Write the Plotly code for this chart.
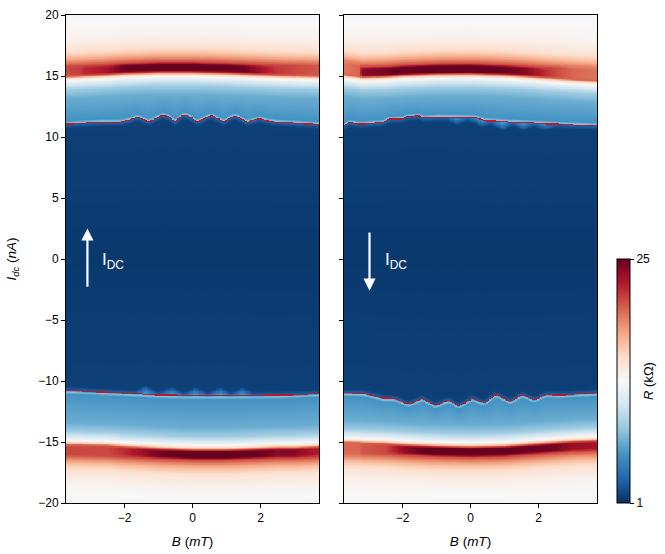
import numpy as np
import plotly.graph_objects as go

# Sampling of the map
B_MIN, B_MAX = -3.72, 3.72
I_MIN, I_MAX = -20.0, 20.0
B_STEP, I_STEP = 0.05, 0.05

# Left panel: switching edges
L_top_edge_B = [-3.7, -2.7, -2.1, -1.8, -1.63, -1.46, -1.29, -1.05, -0.85, -0.65, -0.5, -0.36, -0.24, -0.05, 0.14, 0.35, 0.55, 0.75, 0.91, 1.08, 1.26, 1.44, 1.6, 1.8, 1.97, 2.2, 2.5, 3.0, 3.72]
L_top_edge_I = [11.04, 11.2, 11.22, 11.4, 11.62, 11.45, 11.2, 11.55, 11.8, 11.55, 11.18, 11.62, 11.8, 11.6, 11.18, 11.5, 11.72, 11.5, 11.18, 11.5, 11.72, 11.45, 11.18, 11.35, 11.5, 11.3, 11.2, 11.12, 11.0]
L_bot_edge_B = [-3.72, -2.9, -1.92, -0.94, 0.04, 1.5, 2.73, 3.72]
L_bot_edge_I = [-10.77, -10.87, -11.0, -11.15, -11.2, -11.2, -11.15, -11.04]
L_bot_glow_B = [-3.72, -1.7, -1.38, -1.0, -0.6, -0.25, 0.09, 0.45, 0.82, 1.15, 1.46, 1.8, 3.72]
L_bot_glow_V = [0, 0, 1, 0, 1, 0, 1, 0, 1, 0, 1, 0, 0]

# Right panel: switching edges
R_top_edge_B = [-3.72, -3.58, -3.24, -2.55, -2.45, -1.97, -1.86, -1.47, -1.42, -0.88, 0.2, 0.29, 0.49, 1.27, 2.94, 3.72]
R_top_edge_I = [10.9, 11.17, 11.04, 11.17, 11.42, 11.48, 11.66, 11.69, 11.53, 11.61, 11.56, 11.42, 11.31, 11.2, 10.98, 10.9]
R_top_glow_B = [-3.72, -0.7, -0.4, -0.1, 0.3, 0.6, 0.95, 1.25, 1.55, 1.85, 2.2, 2.5, 3.72]
R_top_glow_V = [0, 0, 0.7, 0, 0.7, 0, 1, 0, 0.8, 0, 0.6, 0, 0]
R_bot_edge_B = [-3.72, -3.14, -2.55, -2.25, -1.81, -1.42, -1.03, -0.64, -0.34, 0.05, 0.41, 0.74, 1.18, 1.52, 1.88, 2.2, 2.65, 3.72]
R_bot_edge_I = [-10.96, -11.0, -11.42, -11.42, -11.9, -11.42, -12.0, -11.56, -12.05, -11.42, -11.8, -11.1, -11.68, -11.1, -11.55, -11.1, -11.15, -10.96]

# Resistance maxima: position (nA) and height (kOhm) versus field (mT)
band_B = [-3.72, -3.25, -3.2, -2.5, -2.0, -1.0, 0.0, 1.0, 1.6, 2.5, 3.0, 3.72]
L_top_peak_I = [15.35, 15.4, 15.42, 15.5, 15.6, 15.68, 15.68, 15.62, 15.55, 15.45, 15.42, 15.38]
L_top_peak_V = [21, 21.5, 22, 23, 25, 26, 26, 25.5, 24.5, 21.5, 21, 20.5]
L_bot_peak_I = [-15.6, -15.6, -15.62, -15.65, -15.75, -15.9, -16.0, -16.0, -15.95, -15.85, -15.85, -15.75]
L_bot_peak_V = [21, 21, 21, 21, 22, 24.5, 26, 26, 25.5, 24, 24, 22.5]
R_top_peak_I = [15.5, 15.35, 15.3, 15.35, 15.45, 15.55, 15.57, 15.48, 15.38, 15.2, 15.1, 15.0]
R_top_peak_V = [19.5, 20, 24, 24.5, 25.5, 26, 26, 25, 24, 21, 20, 19.5]
R_bot_peak_I = [-15.4, -15.42, -15.45, -15.5, -15.6, -15.72, -15.78, -15.72, -15.6, -15.42, -15.32, -15.25]
R_bot_peak_V = [20, 20, 20.5, 21, 23.5, 26, 26, 25.5, 25, 24.5, 23.5, 23]

# Profile around a maximum: offsets (nA) from the peak and resistance (kOhm)
plateau_half = 0.22
outer_offset = [0.45, 0.75, 1.15, 1.7, 2.8]
outer_value = [21.0, 19.0, 16.8, 14.8, 13.4]
inner_offset = [0.4, 0.55, 0.75, 1.05, 1.5, 2.2]
inner_value = [20.0, 15.5, 13.0, 11.0, 8.6, 7.0]
R_far = 12.7
R_gap_edge = 5.8
R_white_rim = 8.0
R_edge_line = 22.5
R_core = 1.4
R_rim = 3.2
R_glow = 6.5

B_grid = np.arange(B_MIN, B_MAX + B_STEP / 2, B_STEP)
I_grid = np.arange(I_MIN, I_MAX + I_STEP / 2, I_STEP)

def rounded(values):
    padded = np.r_[values[0], values, values[-1]]
    return np.convolve(padded, [0.25, 0.5, 0.25], mode="valid")

def build_map(te_B, te_I, be_B, be_I, tp_I, tp_V, bp_I, bp_V, tg_B=None, tg_V=None, bg_B=None, bg_V=None):
    z = np.zeros((len(I_grid), len(B_grid)))
    te = rounded(np.interp(B_grid, te_B, te_I))
    be = rounded(np.interp(B_grid, be_B, be_I))
    tp = np.interp(B_grid, band_B, tp_I)
    bp = np.interp(B_grid, band_B, bp_I)
    ta = np.interp(B_grid, band_B, tp_V)
    ba = np.interp(B_grid, band_B, bp_V)
    tg = np.interp(B_grid, tg_B, tg_V) if tg_B else np.zeros_like(B_grid)
    bg = np.interp(B_grid, bg_B, bg_V) if bg_B else np.zeros_like(B_grid)
    for j in range(len(B_grid)):
        x, y = [I_MIN], [R_far]
        for o, v in reversed(list(zip(outer_offset, outer_value))):
            x.append(bp[j] - o); y.append(min(v, ba[j]))
        x += [bp[j] - plateau_half, bp[j] + plateau_half]; y += [ba[j], ba[j]]
        for o, v in zip(inner_offset, inner_value):
            x.append(bp[j] + o); y.append(v)
        x += [be[j] - 0.28, be[j] - 0.1, be[j] + 0.04]; y += [R_gap_edge, R_white_rim, R_rim + (R_glow - R_rim) * bg[j]]
        x += [be[j] + 0.35 + 0.4 * bg[j], 0.0, te[j] - 0.35 - 0.4 * tg[j]]
        y += [R_core + 0.3, R_core, R_core + 0.3]
        x += [te[j] - 0.04, te[j] + 0.1, te[j] + 0.28]; y += [R_rim + (R_glow - R_rim) * tg[j], R_white_rim, R_gap_edge]
        for o, v in reversed(list(zip(inner_offset, inner_value))):
            x.append(tp[j] - o); y.append(v)
        x += [tp[j] - plateau_half, tp[j] + plateau_half]; y += [ta[j], ta[j]]
        for o, v in zip(outer_offset, outer_value):
            x.append(tp[j] + o); y.append(min(v, ta[j]))
        x += [I_MAX]; y += [R_far]
        z[:, j] = np.interp(I_grid, x, y)
        for edge in (te[j], be[j]):
            row = np.argmin(np.abs(I_grid - edge))
            z[row:row + 2, j] = R_edge_line
    return z

z_left = build_map(L_top_edge_B, L_top_edge_I, L_bot_edge_B, L_bot_edge_I,
                   L_top_peak_I, L_top_peak_V, L_bot_peak_I, L_bot_peak_V,
                   bg_B=L_bot_glow_B, bg_V=L_bot_glow_V)
z_right = build_map(R_top_edge_B, R_top_edge_I, R_bot_edge_B, R_bot_edge_I,
                    R_top_peak_I, R_top_peak_V, R_bot_peak_I, R_bot_peak_V,
                    tg_B=R_top_glow_B, tg_V=R_top_glow_V)

RdBu_r = [[0.0, "#053061"], [0.1, "#2166ac"], [0.2, "#4393c3"], [0.3, "#92c5de"], [0.4, "#d1e5f0"],
          [0.5, "#f7f7f7"], [0.6, "#fddbc7"], [0.7, "#f4a582"], [0.8, "#d6604d"], [0.9, "#b2182b"], [1.0, "#67001f"]]

W, H = 665, 554
FONT = "Liberation Sans"
fig = go.Figure()
fig.add_trace(go.Heatmap(x=B_grid, y=I_grid, z=z_left, zmin=1, zmax=25, colorscale=RdBu_r,
                         xaxis="x", yaxis="y", showscale=False))
fig.add_trace(go.Heatmap(x=B_grid, y=I_grid, z=z_right, zmin=1, zmax=25, colorscale=RdBu_r,
                         xaxis="x2", yaxis="y2",
                         colorbar=dict(x=617 / W, xanchor="left", xpad=0, y=(H - 503) / H, yanchor="bottom", ypad=0,
                                       len=244 / H, lenmode="fraction", thickness=13, thicknessmode="pixels",
                                       tickvals=[1, 25], ticktext=["1", "25"], ticks="outside", ticklen=4,
                                       tickcolor="black", outlinecolor="black", outlinewidth=1,
                                       tickfont=dict(size=12, color="black", family=FONT),
                                       title=dict(text="<i>R</i> (kΩ)", side="right", font=dict(size=13, color="black", family=FONT)))))

common = dict(showline=True, linecolor="black", linewidth=1, mirror=True, ticks="outside", ticklen=4, automargin=False,
              tickcolor="black", showgrid=False, zeroline=False, tickfont=dict(size=12, color="black", family=FONT))
xt = [-2, 0, 2]
yt = [-20, -15, -10, -5, 0, 5, 10, 15, 20]
xtitle = dict(text="<i>B</i> (<i>mT</i>)", standoff=12, font=dict(size=13.5, color="black", family=FONT))
fig.update_layout(
    width=W, height=H, margin=dict(l=0, r=0, t=0, b=0, autoexpand=False), paper_bgcolor="white", plot_bgcolor="white",
    font=dict(family=FONT, size=12, color="black"),
    xaxis=dict(domain=[66 / W, 319 / W], range=[-3.72, 3.72], tickvals=xt, title=xtitle, **common),
    yaxis=dict(domain=[(H - 503) / H, (H - 15) / H], range=[-20, 20], tickvals=yt,
               title=dict(text="<i>I<sub>dc</sub></i> (<i>nA</i>)", standoff=18, font=dict(size=13.5, color="black", family=FONT)), **common),
    xaxis2=dict(domain=[344 / W, 597 / W], range=[-3.72, 3.72], tickvals=xt, title=xtitle, anchor="y2", **common),
    yaxis2=dict(domain=[(H - 503) / H, (H - 15) / H], range=[-20, 20], tickvals=yt, showticklabels=False, anchor="x2", **common),
    annotations=[
        dict(x=-3.09, y=2.5, ax=-3.09, ay=-2.4, xref="x", yref="y", axref="x", ayref="y", text="", showarrow=True,
             arrowhead=2, arrowsize=1.1, arrowwidth=2.2, arrowcolor="white"),
        dict(x=-2.97, y=-2.6, ax=-2.97, ay=2.3, xref="x2", yref="y2", axref="x2", ayref="y2", text="", showarrow=True,
             arrowhead=2, arrowsize=1.1, arrowwidth=2.2, arrowcolor="white"),
        dict(x=-2.72, y=-0.2, xref="x", yref="y", xanchor="left", yanchor="middle", showarrow=False,
             text="I<sub>DC</sub>", font=dict(size=17, color="white", family=FONT)),
        dict(x=-2.57, y=-0.2, xref="x2", yref="y2", xanchor="left", yanchor="middle", showarrow=False,
             text="I<sub>DC</sub>", font=dict(size=17, color="white", family=FONT)),
    ],
)
fig.write_html("out.html", config=dict(displayModeBar=False),
               post_script="document.body.style.margin='0';document.documentElement.style.overflow='hidden';")
